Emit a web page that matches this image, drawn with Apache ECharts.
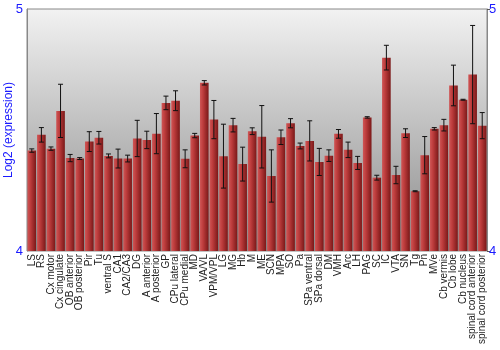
<!DOCTYPE html>
<html><head><meta charset="utf-8">
<script src="https://cdn.jsdelivr.net/npm/echarts@6/dist/echarts.min.js"></script>
<style>html,body{margin:0;padding:0;background:#fff}#c{width:500px;height:350px}</style>
</head><body><div id="c"></div>
<script>
const categories = ["LS","RS","Cx motor","Cx cingulate","OB anterior","OB posterior","Pir","Tu","ventral S","CA1","CA2/CA3","DG","A anterior","A posterior","GP","CPu lateral","CPu medial","MD","VA/VL","VPM/VPL","LG","MG","Hb","M","ME","SCN","MPA","SO","Pa","SPa ventral","SPa dorsal","DM","VMH","Arc","LH","PAG","SC","IC","VTA","SN","Tg","Pn","MVe","Cb vermis","Cb lobe","Cb nucleus","spinal cord anterior","spinal cord posterior"];
const values = [4.415,4.480,4.423,4.579,4.384,4.382,4.452,4.468,4.393,4.382,4.382,4.465,4.459,4.485,4.612,4.621,4.381,4.477,4.695,4.543,4.392,4.520,4.359,4.495,4.472,4.310,4.470,4.528,4.434,4.455,4.368,4.394,4.484,4.418,4.364,4.552,4.303,4.799,4.314,4.487,4.247,4.396,4.505,4.520,4.684,4.625,4.729,4.518];
const errors = [0.007,0.030,0.007,0.110,0.015,0.004,0.041,0.026,0.008,0.039,0.014,0.075,0.036,0.083,0.028,0.041,0.037,0.009,0.009,0.079,0.132,0.028,0.070,0.014,0.129,0.108,0.030,0.019,0.012,0.083,0.056,0.024,0.018,0.032,0.027,0.003,0.010,0.051,0.036,0.018,0.002,0.077,0.005,0.024,0.084,0.002,0.203,0.054];
const yTicks = [4,5];
const yTitle = 'Log2 (expression)';

const chart = echarts.init(document.getElementById('c'));
const errData = values.map((v,i)=>[i, v-errors[i], v+errors[i]]);
chart.setOption({
  animation:false,
  graphic:[{type:'text',x:9,y:130,rotation:Math.PI/2,
    style:{text:yTitle,fill:'#1a1aff',font:'12px "Liberation Sans", Arial',textAlign:'center',textVerticalAlign:'middle'}}],
  grid:{left:27,right:13,top:9,bottom:99,outerBoundsMode:'none',containLabel:false,show:true,borderColor:'#888',borderWidth:1,
    backgroundColor:new echarts.graphic.LinearGradient(0,0,0,1,[{offset:0,color:'#f2f2f2'},{offset:1,color:'#8a8a8a'}])},
  xAxis:{type:'category',data:categories,
    axisLine:{show:false},axisTick:{show:false},
    axisLabel:{interval:0,rotate:90,fontSize:10,fontFamily:'Liberation Sans, Arial',color:'#222',margin:3}},
  yAxis:[{type:'value',min:yTicks[0],max:yTicks[1],interval:1,
    axisLine:{show:true,lineStyle:{color:'#888'}},axisTick:{show:false},splitLine:{show:false},
    axisLabel:{color:'#1a1aff',fontSize:13,fontFamily:'Liberation Sans, Arial',margin:4}},
   {type:'value',min:yTicks[0],max:yTicks[1],interval:1,position:'right',
    axisLine:{show:true,lineStyle:{color:'#888'}},axisTick:{show:true,length:3,lineStyle:{color:'#555'}},splitLine:{show:false},
    axisLabel:{color:'#1a1aff',fontSize:13,fontFamily:'Liberation Sans, Arial',margin:2}}],
  series:[{type:'bar',data:values,barCategoryGap:'10%',
    itemStyle:{color:new echarts.graphic.LinearGradient(0,0,1,0,[{offset:0,color:'#cf5656'},{offset:0.35,color:'#bd3c3c'},{offset:1,color:'#7a1818'}])}},
   {type:'custom',data:errData,z:10,
    renderItem:function(params,api){
      const x=api.value(0), lo=api.coord([x,api.value(1)]), hi=api.coord([x,api.value(2)]);
      const w=2.5, st={stroke:'#111',lineWidth:1};
      return {type:'group',children:[
        {type:'line',shape:{x1:hi[0],y1:hi[1],x2:lo[0],y2:lo[1]},style:st},
        {type:'line',shape:{x1:hi[0]-w,y1:hi[1],x2:hi[0]+w,y2:hi[1]},style:st},
        {type:'line',shape:{x1:lo[0]-w,y1:lo[1],x2:lo[0]+w,y2:lo[1]},style:st}]};
    }}]
});
</script></body></html>
